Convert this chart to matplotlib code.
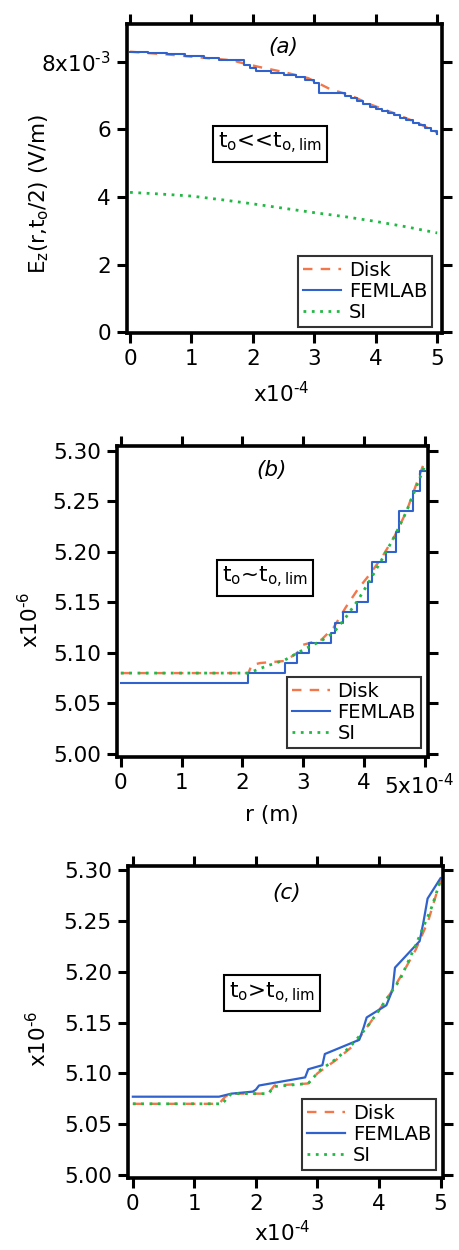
import matplotlib
matplotlib.use('Agg')
import matplotlib.pyplot as plt
from matplotlib.transforms import ScaledTranslation


# ---- Data (r in units of 1e-4 m)

# (a) t_o << t_o,lim, E_z in units of 1e-3 V/m
a_femlab_r = [0, 0.3, 0.6, 0.9, 1.2, 1.45, 1.85, 1.95, 2.05, 2.3, 2.5, 2.7,
              2.85, 3.0, 3.08, 3.5, 3.6, 3.7, 3.8, 3.9, 4.0, 4.1, 4.2, 4.3,
              4.4, 4.5, 4.6, 4.7, 4.8, 4.9, 5.0]
a_femlab_e = [8.30, 8.27, 8.23, 8.18, 8.12, 8.05, 7.90, 7.82, 7.74, 7.68,
              7.62, 7.55, 7.47, 7.38, 7.08, 7.00, 6.93, 6.84, 6.75, 6.67,
              6.60, 6.55, 6.50, 6.43, 6.34, 6.28, 6.20, 6.12, 6.04, 5.96,
              5.88]
a_disk_r = [0, 0.6, 1.2, 1.7, 1.75, 2.1, 2.5, 2.9, 3.25, 3.6, 3.9, 4.3, 4.7,
            5.0]
a_disk_e = [8.30, 8.22, 8.12, 8.04, 8.00, 7.85, 7.70, 7.52, 7.20, 7.00,
            6.75, 6.48, 6.18, 5.90]
a_si_r = [0, 0.5, 1.0, 1.5, 2.0, 2.5, 3.0, 3.5, 4.0, 4.5, 5.0]
a_si_e = [4.14, 4.09, 4.03, 3.92, 3.80, 3.67, 3.54, 3.42, 3.28, 3.12, 2.94]

# (b) t_o ~ t_o,lim, units of 1e-6
b_femlab_r = [0, 2.09, 2.70, 2.89, 3.10, 3.46, 3.52, 3.66, 3.88, 4.07, 4.13,
              4.37, 4.53, 4.58, 4.80, 4.92, 5.0]
b_femlab_v = [5.07, 5.08, 5.09, 5.10, 5.11, 5.12, 5.13, 5.14, 5.15, 5.17,
              5.19, 5.20, 5.22, 5.24, 5.26, 5.28, 5.28]
b_disk_r = [0, 2.1, 2.15, 2.3, 2.7, 2.9, 3.0, 3.3, 3.5, 3.7, 3.9, 4.1, 4.3,
            4.5, 4.7, 4.85, 5.0]
b_disk_v = [5.08, 5.08, 5.088, 5.09, 5.092, 5.100, 5.108, 5.113, 5.125,
            5.145, 5.163, 5.178, 5.195, 5.215, 5.240, 5.265, 5.290]
b_si_r = [0, 2.1, 2.4, 2.7, 3.0, 3.3, 3.5, 3.7, 3.9, 4.1, 4.3, 4.5, 4.7,
          4.9, 5.0]
b_si_v = [5.08, 5.08, 5.087, 5.093, 5.103, 5.112, 5.120, 5.135, 5.152,
          5.172, 5.193, 5.215, 5.240, 5.270, 5.285]

# (c) t_o > t_o,lim, units of 1e-6
c_femlab_r = [0, 1.4, 1.6, 1.95, 2.0, 2.05, 2.8, 2.85, 3.08, 3.12, 3.68,
              3.75, 3.8, 4.12, 4.22, 4.26, 4.66, 4.72, 4.79, 5.0]
c_femlab_v = [5.077, 5.077, 5.080, 5.082, 5.084, 5.088, 5.096, 5.104, 5.108,
              5.119, 5.133, 5.145, 5.155, 5.167, 5.182, 5.204, 5.230, 5.248,
              5.272, 5.292]
c_disk_r = [0, 1.4, 1.5, 1.6, 2.2, 2.3, 2.85, 3.0, 3.3, 3.6, 3.8, 4.0, 4.2,
            4.4, 4.6, 4.8, 5.0]
c_disk_v = [5.07, 5.07, 5.077, 5.08, 5.08, 5.088, 5.09, 5.10, 5.113, 5.128,
            5.145, 5.162, 5.18, 5.200, 5.222, 5.250, 5.290]
c_si_r = [0, 1.45, 1.6, 2.2, 2.3, 2.85, 3.04, 3.3, 3.53, 3.8, 4.0, 4.2,
          4.34, 4.61, 4.86, 5.0]
c_si_v = [5.07, 5.07, 5.08, 5.08, 5.087, 5.09, 5.103, 5.114, 5.126, 5.145,
          5.162, 5.180, 5.192, 5.228, 5.264, 5.290]

r_ticks = [0, 1, 2, 3, 4, 5]
a_yticks = [0, 2, 4, 6, 8]
a_yticklabels = ['0', '2', '4', '6', r'8x10$^{\text{-3}}$']
b_xticklabels = ['0', '1', '2', '3', '4', r'5x10$^{\text{-4}}$']
bc_yticks = [5.00, 5.05, 5.10, 5.15, 5.20, 5.25, 5.30]
bc_yticklabels = ['5.00', '5.05', '5.10', '5.15', '5.20', '5.25', '5.30']

DISK_C = '#f2774a'
FEM_C = '#2f62cc'
SI_C = '#22b845'
FS = 15.5

plt.rcParams['font.family'] = 'DejaVu Sans'
plt.rcParams['mathtext.default'] = 'regular'
plt.rcParams['font.size'] = FS

fig = plt.figure(figsize=(4.6, 12.5), dpi=100)
ax_a = fig.add_axes([0.276, 0.7336, 0.685, 0.2472])
ax_b = fig.add_axes([0.254, 0.3944, 0.676, 0.2488])
ax_c = fig.add_axes([0.278, 0.0576, 0.685, 0.2496])


def style_axes(ax):
    for sp in ax.spines.values():
        sp.set_linewidth(2.6)
    ax.tick_params(direction='out', top=True, right=True, length=7.5,
                   width=2.2, labelsize=FS, pad=4)


def draw_lines(ax, disk, fem, si, fem_step=False):
    ax.plot(disk[0], disk[1], color=DISK_C, lw=1.7, ls=(0, (4, 3.5)),
            label='Disk')
    if fem_step:
        ax.step(fem[0], fem[1], where='post', color=FEM_C, lw=1.5,
                label='FEMLAB')
    else:
        ax.plot(fem[0], fem[1], color=FEM_C, lw=1.6, label='FEMLAB')
    ax.plot(si[0], si[1], color=SI_C, lw=2.0, ls=(0, (1, 2)), label='SI')


def add_legend(ax, anchor):
    leg = ax.legend(loc='lower right', bbox_to_anchor=anchor, fontsize=14,
                    handlelength=1.95, handletextpad=0.4, labelspacing=0.1,
                    borderpad=0.25, borderaxespad=0, fancybox=False)
    leg.get_frame().set_edgecolor('black')
    leg.get_frame().set_linewidth(1.5)


def add_regime(ax, txt, xy):
    ax.text(xy[0], xy[1], txt, transform=ax.transAxes, ha='center',
            va='center', fontsize=FS,
            bbox=dict(boxstyle='square,pad=0.25', fc='white', ec='black',
                      lw=1.5))


# ---- (a)
draw_lines(ax_a, (a_disk_r, a_disk_e), (a_femlab_r, a_femlab_e),
           (a_si_r, a_si_e), fem_step=True)
style_axes(ax_a)
ax_a.set_xlim(-0.05, 5.08)
ax_a.set_ylim(-0.02, 9.12)
ax_a.set_xticks(r_ticks)
ax_a.set_yticks(a_yticks)
ax_a.set_yticklabels(a_yticklabels)
ax_a.set_xlabel(r'x10$^{\text{-4}}$')
ax_a.xaxis.set_label_coords(0.49, -0.155)
ax_a.set_ylabel('E$_z$(r,t$_o$/2) (V/m)')
ax_a.yaxis.set_label_coords(-0.24, 0.45)
ax_a.text(0.495, 0.926, '(a)', transform=ax_a.transAxes, ha='center',
          va='center', style='italic', fontsize=FS)
add_regime(ax_a, 't$_o$<<t$_{o,lim}$', (0.454, 0.612))
add_legend(ax_a, (0.968, 0.02))

# ---- (b)
draw_lines(ax_b, (b_disk_r, b_disk_v), (b_femlab_r, b_femlab_v),
           (b_si_r, b_si_v), fem_step=True)
style_axes(ax_b)
ax_b.set_xlim(-0.066, 5.05)
ax_b.set_ylim(4.997, 5.3046)
ax_b.set_xticks(r_ticks)
ax_b.set_xticklabels(b_xticklabels)
# last label carries the multiplier; nudge it left so it stays on the page
last = ax_b.get_xticklabels()[-1]
last.set_transform(last.get_transform()
                   + ScaledTranslation(-4 / 72, 0, fig.dpi_scale_trans))
ax_b.set_yticks(bc_yticks)
ax_b.set_yticklabels(bc_yticklabels)
ax_b.set_xlabel('r (m)')
ax_b.xaxis.set_label_coords(0.50, -0.155)
ax_b.set_ylabel(r'x10$^{\text{-6}}$')
ax_b.yaxis.set_label_coords(-0.24, 0.44)
ax_b.text(0.498, 0.923, '(b)', transform=ax_b.transAxes, ha='center',
          va='center', style='italic', fontsize=FS)
add_regime(ax_b, 't$_o$~t$_{o,lim}$', (0.476, 0.576))
add_legend(ax_b, (0.977, 0.029))

# ---- (c)
draw_lines(ax_c, (c_disk_r, c_disk_v), (c_femlab_r, c_femlab_v),
           (c_si_r, c_si_v))
style_axes(ax_c)
ax_c.set_xlim(-0.081, 5.04)
ax_c.set_ylim(4.997, 5.304)
ax_c.set_xticks(r_ticks)
ax_c.set_yticks(bc_yticks)
ax_c.set_yticklabels(bc_yticklabels)
ax_c.set_xlabel(r'x10$^{\text{-4}}$')
ax_c.xaxis.set_label_coords(0.49, -0.135)
ax_c.set_ylabel(r'x10$^{\text{-6}}$')
ax_c.yaxis.set_label_coords(-0.245, 0.446)
ax_c.text(0.505, 0.913, '(c)', transform=ax_c.transAxes, ha='center',
          va='center', style='italic', fontsize=FS)
add_regime(ax_c, 't$_o$>t$_{o,lim}$', (0.457, 0.593))
add_legend(ax_c, (0.978, 0.026))

fig.savefig('out.png', dpi=100)
